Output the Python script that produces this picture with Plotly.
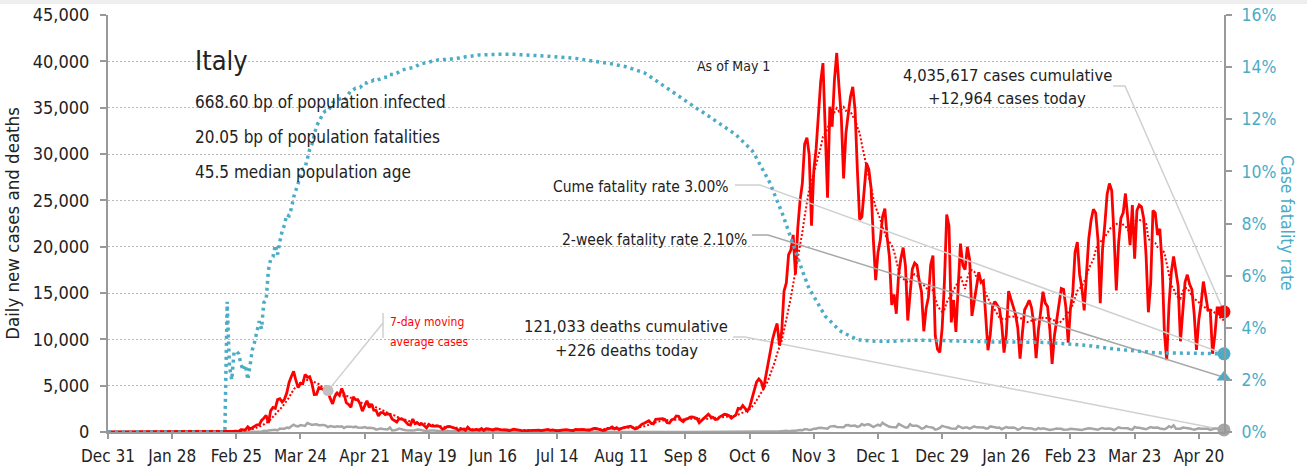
import calendar
import numpy as np
import pandas as pd
import plotly.graph_objects as go

# ---------------- Italy: daily new cases (one list per month) ----------------
cases_2019_12 = [0]  # Dec 31 only
cases_2020_01 = [0] * 30 + [2]
cases_2020_02 = [0] * 6 + [1] + [0] * 13 + [17, 59, 71, 79, 93, 78, 250, 238, 240]
cases_2020_03 = [566, 342, 466, 587, 769, 778, 1247, 1492, 1797, 977,
                 2313, 2651, 2547, 3497, 3590, 3233, 3526, 4207, 5322, 5986,
                 6557, 5560, 4789, 5249, 5210, 6203, 5909, 5974, 5217, 4050,
                 4053]
cases_2020_04 = [4782, 4668, 4585, 4805, 4316, 3599, 3039, 3836, 4204, 3951,
                 4694, 4092, 3153, 2972, 2667, 3786, 3493, 3491, 3047, 2256,
                 2729, 3370, 2646, 3021, 2357, 2324, 1739, 2091, 2086, 1872]
cases_2020_05 = [1965, 1900, 1389, 1221, 1075, 1444, 1401, 1327, 1083, 802,
                 744, 1402, 888, 992, 789, 875, 675, 451, 813, 665,
                 642, 652, 669, 531, 300, 397, 584, 593, 516, 416,
                 355]
cases_2020_06 = [178, 318, 321, 177, 518, 270, 197, 280, 283, 202,
                 379, 163, 346, 338, 301, 210, 329, 333, 251, 262,
                 224, 218, 122, 190, 296, 259, 175, 174, 126, 142]
cases_2020_07 = [187, 201, 223, 235, 192, 208, 138, 193, 229, 276,
                 188, 234, 169, 114, 162, 230, 233, 249, 219, 190,
                 129, 280, 306, 252, 275, 255, 170, 181, 289, 386,
                 379]
cases_2020_08 = [295, 239, 159, 190, 384, 402, 552, 347, 463, 259,
                 412, 481, 523, 574, 629, 479, 320, 403, 642, 845,
                 947, 1071, 1210, 953, 878, 1367, 1411, 1460, 1444, 1365,
                 996]
cases_2020_09 = [978, 1326, 1397, 1733, 1695, 1297, 1108, 1370, 1434, 1597,
                 1616, 1501, 1458, 1008, 1229, 1452, 1585, 1907, 1638, 1587,
                 1350, 1392, 1640, 1786, 1912, 1869, 1766, 1494, 1648, 1851]
cases_2020_10 = [2548, 2499, 2844, 2578, 2257, 2677, 3678, 4458, 5372, 5724,
                 5456, 4619, 5901, 7332, 8804, 10010, 10925, 11705, 9338, 10874,
                 15199, 16079, 19143, 19644, 21273, 17012, 21994, 24991, 26831, 31084,
                 31758]
cases_2020_11 = [29907, 22253, 28244, 30550, 34505, 37809, 39811, 32616, 25271, 35098,
                 32961, 37978, 40902, 37255, 33979, 27354, 32191, 34283, 36176, 37242,
                 34767, 28337, 22930, 23232, 25853, 29003, 28352, 26323, 20648, 16377]
cases_2020_12 = [19350, 20709, 23225, 24099, 21052, 18887, 13720, 14842, 12756, 16999,
                 18727, 19903, 17938, 12030, 14844, 17572, 18236, 17992, 16308, 15104,
                 10872, 13318, 14522, 18040, 19037, 10407, 8913, 8585, 11212, 16202,
                 23477]
cases_2021_01 = [22211, 11831, 14245, 10800, 15378, 20331, 18020, 17533, 19978, 18627,
                 12532, 14242, 15774, 17246, 16146, 16310, 12545, 8824, 10497, 13571,
                 14078, 13633, 13331, 11629, 8561, 10593, 15204, 14372, 13574, 12715,
                 11252]
cases_2021_02 = [7925, 10630, 13189, 13659, 14218, 13442, 11641, 7970, 10994, 12956,
                 15146, 13908, 13532, 11068, 7351, 10386, 12074, 13762, 15479, 15370,
                 13452, 9630, 13314, 15000, 19394, 20499, 17000, 15500]
cases_2021_03 = [13114, 17083, 20884, 22865, 24036, 23641, 20765, 13902, 19749, 22409,
                 25673, 26824, 26062, 21315, 15267, 20396, 23059, 23649, 25735, 23100,
                 20159, 24500, 18700, 23900, 24500, 24300, 23000, 19000, 12916, 16017,
                 23904]
cases_2021_04 = [23649, 21261, 21932, 18025, 10680, 7767, 13708, 17221, 18938, 17567,
                 15746, 9789, 13447, 16168, 16974, 15943, 15370, 12694, 8864, 12074,
                 13844, 16232, 14761, 13176, 13158, 8444, 10404, 13385, 13382, 12965]
cases_2021_05 = [12964]  # May 1 only

# ---------------- Italy: daily new deaths ----------------
deaths_2019_12 = [0]
deaths_2020_01 = [0] * 31
deaths_2020_02 = [0] * 20 + [1, 1, 1, 4, 3, 2, 5, 4, 8]
deaths_2020_03 = [5, 18, 27, 28, 41, 49, 36, 133, 97, 168,
                  196, 189, 250, 175, 368, 349, 345, 475, 427, 627,
                  793, 651, 601, 743, 683, 662, 969, 889, 756, 812,
                  837]
deaths_2020_04 = [727, 760, 766, 681, 525, 636, 604, 542, 610, 570,
                  619, 431, 566, 602, 578, 525, 575, 482, 433, 454,
                  534, 437, 464, 420, 415, 260, 333, 382, 323, 285]
deaths_2020_05 = [269, 474, 174, 195, 236, 369, 274, 243, 194, 165,
                  179, 172, 195, 262, 242, 153, 145, 99, 162, 161,
                  156, 130, 119, 50, 92, 78, 117, 70, 87, 111,
                  75]
deaths_2020_06 = [60, 55, 71, 88, 85, 72, 53, 65, 79, 71,
                  53, 56, 78, 44, 26, 34, 43, 66, 47, 49,
                  24, 23, 18, 30, 30, 30, 8, 24, 6, 23]
deaths_2020_07 = [21, 30, 15, 21, 7, 8, 30, 15, 12, 12,
                  7, 9, 13, 17, 20, 11, 13, 7, 9, 3,
                  13, 15, 9, 5, 5, 7, 5, 11, 11, 6,
                  3]
deaths_2020_08 = [16, 11, 9, 10, 14, 10, 7, 17, 8, 6,
                  10, 25, 14, 10, 13, 8, 8, 11, 9, 19,
                  11, 10, 6, 8, 8, 17, 9, 13, 13, 5,
                  12]
deaths_2020_09 = [6, 8, 10, 10, 11, 9, 6, 10, 10, 10,
                  10, 13, 7, 9, 14, 9, 10, 24, 10, 15,
                  14, 17, 20, 17, 13, 17, 20, 9, 17, 24]
deaths_2020_10 = [23, 24, 27, 17, 16, 28, 31, 22, 28, 29,
                  26, 39, 41, 43, 83, 55, 47, 69, 73, 89,
                  127, 136, 91, 151, 128, 141, 221, 217, 199, 297,
                  297]
deaths_2020_11 = [208, 233, 353, 352, 445, 446, 425, 331, 356, 580,
                  623, 636, 550, 544, 546, 504, 731, 753, 653, 699,
                  692, 562, 630, 853, 722, 822, 827, 686, 541, 672]
deaths_2020_12 = [785, 684, 993, 814, 662, 564, 528, 491, 499, 887,
                  761, 649, 484, 491, 846, 680, 683, 674, 553, 352,
                  415, 628, 553, 505, 459, 261, 305, 445, 659, 575,
                  555]
deaths_2021_01 = [462, 364, 347, 348, 649, 548, 414, 483, 483, 361,
                  448, 616, 507, 522, 475, 477, 377, 377, 603, 524,
                  521, 472, 488, 299, 420, 541, 467, 492, 477, 421,
                  237]
deaths_2021_02 = [329, 499, 426, 421, 391, 385, 307, 266, 423, 336,
                  391, 316, 311, 221, 258, 336, 369, 347, 353, 251,
                  232, 274, 356, 318, 343, 253, 280, 207]
deaths_2021_03 = [305, 393, 397, 389, 347, 357, 257, 368, 426, 341,
                  373, 380, 317, 207, 354, 502, 431, 423, 386, 401,
                  300, 264, 551, 460, 457, 380, 297, 297, 417, 529,
                  467]
deaths_2021_04 = [501, 481, 376, 326, 296, 421, 627, 487, 718, 344,
                  331, 360, 476, 469, 429, 380, 310, 251, 316, 390,
                  360, 360, 342, 344, 217, 301, 372, 373, 217, 288]
deaths_2021_05 = [226]

population = 60_359_546
median_age = 45.5
two_week_cfr = 2.10  # percent, latest 14-day fatality rate

full_months = [(2020, m) for m in range(1, 13)] + [(2021, m) for m in range(1, 5)]
case_months = [cases_2020_01, cases_2020_02, cases_2020_03, cases_2020_04, cases_2020_05,
               cases_2020_06, cases_2020_07, cases_2020_08, cases_2020_09, cases_2020_10,
               cases_2020_11, cases_2020_12, cases_2021_01, cases_2021_02, cases_2021_03,
               cases_2021_04]
death_months = [deaths_2020_01, deaths_2020_02, deaths_2020_03, deaths_2020_04, deaths_2020_05,
                deaths_2020_06, deaths_2020_07, deaths_2020_08, deaths_2020_09, deaths_2020_10,
                deaths_2020_11, deaths_2020_12, deaths_2021_01, deaths_2021_02, deaths_2021_03,
                deaths_2021_04]
for (yr, mo), c, d in zip(full_months, case_months, death_months):
    n = calendar.monthrange(yr, mo)[1]
    assert len(c) == n and len(d) == n, (yr, mo, len(c), len(d))

cases = np.array(cases_2019_12 + sum(case_months, []) + cases_2021_05, dtype=float)
deaths = np.array(deaths_2019_12 + sum(death_months, []) + deaths_2021_05, dtype=float)
dates = pd.date_range("2019-12-31", periods=len(cases), freq="D")

cum_cases = cases.cumsum()
cum_deaths = deaths.cumsum()
cfr = np.where(cum_cases > 0, cum_deaths / np.maximum(cum_cases, 1) * 100.0, 0.0)
ma7 = pd.Series(cases).rolling(7, min_periods=1).mean().to_numpy()

# ---------------- styling ----------------
FONT = "DejaVu Sans Condensed, Liberation Sans Narrow, sans-serif"
TEXT = "#222222"
RED = "#ff0000"
BLUE = "#4bacc6"
GREY = "#a6a6a6"
LEAD = "#d0d0d0"
AXIS = "#999999"

W, H = 1307, 471
L, R, T, B = 108, 1224, 15, 432  # plot area in page pixels
Y_TOP, Y2_TOP = 45000, 16
span_days = (dates[-1] - dates[0]) / pd.Timedelta(days=1)


def page_x(px):
    return dates[0] + pd.Timedelta(days=(px - L) / (R - L) * span_days)


def page_y(py, top=Y_TOP):
    return (B - py) / (B - T) * top


def note(text, px, py, size=16.5, anchor="left", color=TEXT):
    return dict(text=text, xref="paper", yref="paper",
                x=(px - L) / (R - L), y=(B - py) / (B - T),
                xanchor=anchor, yanchor="middle", showarrow=False,
                font=dict(size=size, color=color, family=FONT))


def leader(points, end_x, end_y, axis="y", color=LEAD, top=Y_TOP):
    xs = [page_x(px) for px, _ in points] + [end_x]
    ys = [page_y(py, top) for _, py in points] + [end_y]
    return go.Scatter(x=xs, y=ys, yaxis=axis, mode="lines", hoverinfo="skip",
                      line=dict(color=color, width=1.5), cliponaxis=False)


fig = go.Figure()

# callout leader lines
ma_dot_date = pd.Timestamp("2020-04-05")
ma_dot_val = ma7[dates.get_loc(ma_dot_date)]
fig.add_trace(leader([(383, 313)], page_x(383), page_y(338)))
fig.add_trace(leader([(383, 323)], ma_dot_date, ma_dot_val))
fig.add_trace(leader([(1113, 86), (1125, 86)], dates[-1], cases[-1]))
fig.add_trace(leader([(735, 185), (760, 185)], dates[-1], cfr[-1], axis="y2", top=Y2_TOP))
fig.add_trace(leader([(752, 235), (768, 235)], dates[-1], two_week_cfr, axis="y2",
                     color="#a8a8a8", top=Y2_TOP))
fig.add_trace(leader([(733, 337), (745, 337)], dates[-1], deaths[-1]))

# series
fig.add_trace(go.Scatter(x=dates, y=deaths, mode="lines", hoverinfo="skip",
                         line=dict(color=GREY, width=2.5)))
fig.add_trace(go.Scatter(x=dates, y=cfr, yaxis="y2", mode="lines", hoverinfo="skip",
                         line=dict(color=BLUE, width=3.5, dash="3px,4px")))
fig.add_trace(go.Scatter(x=dates, y=ma7, mode="lines", hoverinfo="skip",
                         line=dict(color=RED, width=2, dash="2px,2px")))
fig.add_trace(go.Scatter(x=dates, y=cases, mode="lines", hoverinfo="skip",
                         line=dict(color=RED, width=2.8)))

# end-point markers
fig.add_trace(go.Scatter(x=[ma_dot_date], y=[ma_dot_val], mode="markers", cliponaxis=False,
                         marker=dict(color="#c0c0c0", size=11), hoverinfo="skip"))
fig.add_trace(go.Scatter(x=[dates[-1]], y=[deaths[-1]], mode="markers", cliponaxis=False,
                         marker=dict(color=GREY, size=13), hoverinfo="skip"))
fig.add_trace(go.Scatter(x=[dates[-1]], y=[cases[-1]], mode="markers", cliponaxis=False,
                         marker=dict(color=RED, size=13), hoverinfo="skip"))
fig.add_trace(go.Scatter(x=[dates[-1]], y=[cfr[-1]], yaxis="y2", mode="markers",
                         cliponaxis=False, marker=dict(color=BLUE, size=13), hoverinfo="skip"))
fig.add_trace(go.Scatter(x=[dates[-1]], y=[two_week_cfr], yaxis="y2", mode="markers",
                         cliponaxis=False, marker=dict(color=BLUE, size=13, symbol="triangle-up"),
                         hoverinfo="skip"))

tick_dates = pd.date_range(dates[0], dates[-1], freq="28D")
tick_text = [f"{d:%b} {d.day}" for d in tick_dates]

total_cases = int(cum_cases[-1])
total_deaths = int(cum_deaths[-1])
annotations = [
    note("Italy", 193, 60, size=27),
    note(f"{total_cases / population * 1e4:.2f} bp of population infected", 193, 102, size=17),
    note(f"{total_deaths / population * 1e4:.2f} bp of population fatalities", 193, 137, size=17),
    note(f"{median_age} median population age", 193, 172, size=17),
    note("As of May 1", 733, 66, size=14, anchor="center"),
    note(f"{total_cases:,} cases cumulative", 1007, 75, anchor="center"),
    note(f"+{int(cases[-1]):,} cases today", 1007, 99, anchor="center"),
    note(f"Cume fatality rate {cfr[-1]:.2f}%", 731, 187, size=15.5, anchor="right"),
    note(f"2-week fatality rate {two_week_cfr:.2f}%", 749, 240, size=15.5, anchor="right"),
    note(f"{total_deaths:,} deaths cumulative", 626, 326, anchor="center"),
    note(f"+{int(deaths[-1]):,} deaths today", 626, 350, anchor="center"),
    note("7-day moving", 388, 322, size=12, color=RED),
    note("average cases", 388, 342, size=12, color=RED),
    dict(text="Case fatality rate", xref="paper", yref="paper",
         x=(1287 - L) / (R - L), y=(B - 223) / (B - T), textangle=90,
         xanchor="center", yanchor="middle", showarrow=False,
         font=dict(size=17.5, color=BLUE, family=FONT)),
]

fig.update_layout(
    width=W, height=H,
    margin=dict(l=L, r=W - R, t=T, b=H - B, pad=0),
    paper_bgcolor="white", plot_bgcolor="white",
    showlegend=False,
    font=dict(family=FONT, color=TEXT, size=17),
    annotations=annotations,
    shapes=[dict(type="rect", xref="paper", yref="paper",
                 x0=-L / (R - L), x1=(W - L) / (R - L),
                 y0=(B - 4) / (B - T), y1=B / (B - T),
                 fillcolor="#eeeeee", line=dict(width=0), layer="below")],
    xaxis=dict(type="date", range=[dates[0], dates[-1]], automargin=False,
               tickvals=tick_dates, ticktext=tick_text,
               showgrid=False, zeroline=False,
               showline=True, linecolor=AXIS, linewidth=2,
               ticks="outside", ticklen=5, tickwidth=2, tickcolor=AXIS,
               tickfont=dict(size=17, color=TEXT), ticklabelstandoff=3),
    yaxis=dict(range=[0, Y_TOP], dtick=5000, tickformat=",", automargin=False,
               showgrid=True, gridcolor="#b8b8b8", gridwidth=1, griddash="2px,2px",
               zeroline=False, showline=True, linecolor=AXIS, linewidth=2,
               ticks="outside", ticklen=6, tickwidth=2, tickcolor=AXIS,
               tickfont=dict(size=18, color=TEXT), ticklabelstandoff=7,
               title=dict(text="Daily new cases and deaths", standoff=8,
                          font=dict(size=18.5, color=TEXT))),
    yaxis2=dict(range=[0, Y2_TOP], dtick=2, ticksuffix="%", overlaying="y", side="right",
                automargin=False,
                showgrid=False, zeroline=False, showline=True, linecolor=AXIS, linewidth=2,
                ticks="outside", ticklen=6, tickwidth=2, tickcolor=AXIS,
                tickfont=dict(size=17.5, color=BLUE), ticklabelstandoff=6),
)

fig.write_html("out.html")
